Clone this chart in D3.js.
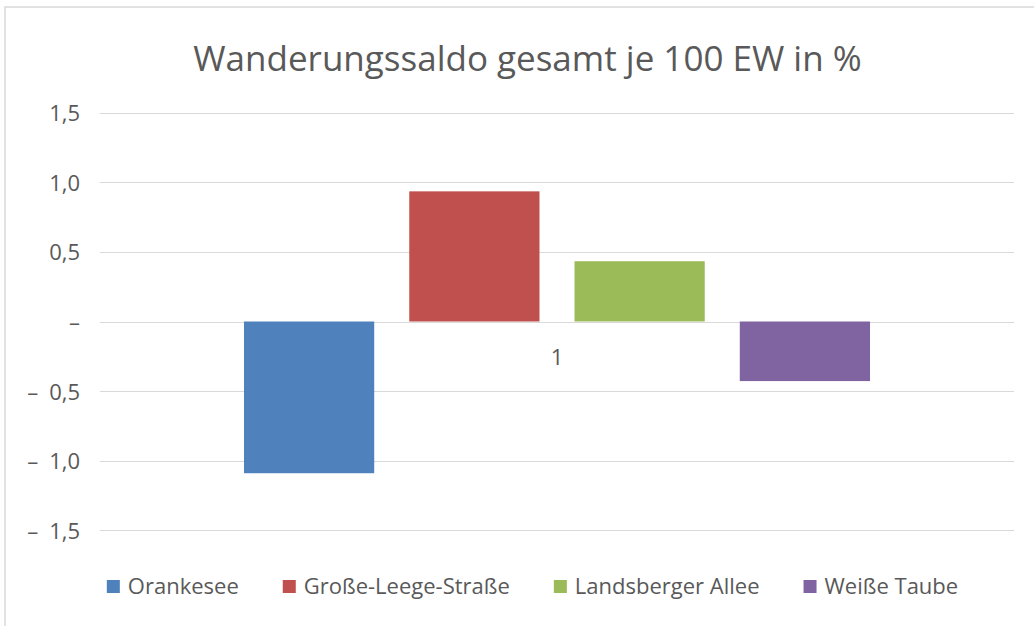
<!DOCTYPE html>
<html>
<head>
<meta charset="utf-8">
<script src="https://cdn.jsdelivr.net/npm/d3@7"></script>
<style>
  html, body { margin: 0; padding: 0; background: #fff; }
  svg { display: block; font-family: "Open Sans", "Noto Sans", sans-serif; }
</style>
</head>
<body>
<svg id="chart" width="1034" height="626"></svg>
<script>
const title = "Wanderungssaldo gesamt je 100 EW in %";
const categories = ["1"];
const series = ["Orankesee", "Große-Leege-Straße", "Landsberger Allee", "Weiße Taube"];
const values = [-1.09, 0.935, 0.433, -0.428];
const colors = ["#4f81bd", "#c0504d", "#9bbb59", "#8064a2"];
const yTicks = [-1.5, -1.0, -0.5, 0, 0.5, 1.0, 1.5];

const W = 1034, H = 626;
const margin = { left: 100, right: 20, top: 113, bottom: 96 };
const svg = d3.select("#chart");
const textColor = "#595959";
const gridColor = "#d9d9d9";

// chart frame (only top/left visible in the crop)
svg.append("rect").attr("x", 5).attr("y", 7).attr("width", W + 50).attr("height", H + 50)
  .attr("fill", "#fff").attr("stroke", gridColor).attr("stroke-width", 1.5);

const y = d3.scaleLinear().domain([-1.5, 1.5]).range([530.3, 112.7]);
const x0 = d3.scaleBand().domain(categories).range([margin.left, W - margin.right])
  .paddingInner(0).paddingOuter(0.23);
const x1 = d3.scaleBand().domain(series).range([0, x0.bandwidth()])
  .paddingInner(0.212).paddingOuter(0);

// gridlines + tick labels
const yAxis = d3.axisLeft(y).tickValues(yTicks)
  .tickSize(-(W - margin.right - margin.left))
  .tickPadding(20)
  .tickFormat(v => {
    if (Math.abs(v) < 1e-9) return "–";
    const s = Math.abs(v).toFixed(1).replace(".", ",");
    return v < 0 ? "–\u2009\u2009\u2009" + s : s;
  });
const gy = svg.append("g").attr("transform", `translate(${margin.left},0)`).call(yAxis);
gy.select(".domain").remove();
gy.selectAll(".tick line").attr("stroke", gridColor).attr("stroke-width", 1)
  .attr("shape-rendering", "crispEdges");
gy.selectAll(".tick text").attr("fill", textColor).attr("font-size", 22)
  .attr("font-family", "'Open Sans', sans-serif").attr("dy", "0.36em");

// bars
svg.append("g").selectAll("rect.bar")
  .data(series.map((s, i) => ({ s, v: values[i], c: colors[i], cat: categories[0] })))
  .join("rect")
  .attr("class", "bar")
  .attr("x", d => x0(d.cat) + x1(d.s))
  .attr("width", x1.bandwidth())
  .attr("y", d => y(Math.max(0, d.v)))
  .attr("height", d => Math.abs(y(d.v) - y(0)))
  .attr("fill", d => d.c);

// category label
svg.append("g").selectAll("text.cat").data(categories).join("text")
  .attr("class", "cat")
  .attr("x", d => x0(d) + x0.bandwidth() / 2)
  .attr("y", y(0) + 43)
  .attr("text-anchor", "middle")
  .attr("fill", textColor).attr("font-size", 22)
  .text(d => d);

// title
svg.append("text")
  .attr("x", 527.5).attr("y", 71)
  .attr("text-anchor", "middle")
  .attr("fill", textColor).attr("font-size", 35)
  .text(title);

// legend
const legend = svg.append("g");
const items = legend.selectAll("g.item").data(series.map((s, i) => ({ s, c: colors[i] })))
  .join("g").attr("class", "item");
items.append("rect").attr("width", 13).attr("height", 13).attr("y", -14).attr("fill", d => d.c);
items.append("text").attr("x", 21).attr("y", 0).attr("fill", textColor)
  .attr("font-size", 22).text(d => d.s);
let xpos = 0;
const gap = 44;
items.each(function () {
  const g = d3.select(this);
  g.attr("transform", `translate(${xpos},0)`);
  const w = 21 + g.select("text").node().getComputedTextLength();
  xpos += w + gap;
});
const totalW = xpos - gap;
legend.attr("transform", `translate(${532.5 - totalW / 2},594)`);
</script>
</body>
</html>
